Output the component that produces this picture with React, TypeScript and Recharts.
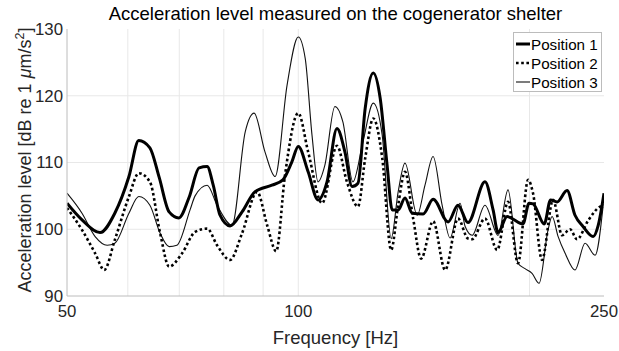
import React from 'react';
import { LineChart, Line, XAxis, YAxis, CartesianGrid } from 'recharts';

const xTicks = [50, 100, 250];
const yTicks = [90, 100, 110, 120, 130];
const xGrid = [60, 70, 80, 90, 100, 200];
const yGrid = [100, 110, 120];

const pos1Freq = [50, 52.3, 55.2, 57.7, 60.2, 62.0, 64.1, 65.9, 67.9, 69.9, 72.1, 74.3, 76.1, 77.5, 79.1, 81.5, 84.5, 87.8, 92.4, 95.5, 98.1, 100, 103.0, 106.1, 109.0, 112.3, 115.0, 117.5, 119.6, 122.2, 125.2, 127.8, 130.5, 132.5, 134.9, 137.7, 140.7, 145.4, 149.8, 156.7, 161.4, 166.3, 175.0, 179.3, 182.0, 187.0, 189.8, 196.1, 199.7, 202.1, 209.0, 213.0, 217.2, 223.8, 229.2, 234.8, 242.0, 245.6, 250];
const pos1Level = [103.9, 101.4, 99.5, 102.4, 107.9, 113.3, 112.2, 107.8, 102.6, 101.7, 104.8, 109.2, 109.4, 106.6, 102.1, 100.5, 102.6, 105.6, 106.6, 107.4, 110.1, 112.4, 108.6, 104.4, 107.1, 115.1, 111.6, 106.4, 106.9, 118.1, 123.4, 119.7, 109.6, 102.9, 102.9, 104.7, 102.4, 102.3, 104.5, 101.1, 103.6, 101.0, 107.1, 102.9, 99.5, 101.9, 101.6, 100.8, 103.9, 103.8, 100.8, 104.4, 104.1, 105.8, 102.1, 100.4, 98.9, 100.5, 105.4];

const pos2Freq = [50, 52.3, 54.4, 55.9, 57.7, 60.2, 62.0, 64.1, 66.1, 67.9, 70.6, 73.4, 76.1, 78.4, 81.5, 84.5, 88.4, 91.1, 93.6, 96.1, 100, 103.0, 107.4, 112.3, 115.7, 119.6, 122.2, 125.2, 128.6, 132.1, 134.9, 137.7, 141.1, 144.5, 149.8, 155.3, 161.4, 166.3, 168.4, 175.0, 181.5, 187.5, 193.2, 199.1, 202.1, 207.6, 214.6, 220.5, 225.8, 230.6, 238.4, 247.1, 250];
const pos2Level = [103.2, 99.9, 96.4, 93.9, 98.4, 104.9, 108.4, 107.1, 99.4, 94.4, 96.4, 99.6, 100.1, 97.6, 95.4, 99.4, 105.6, 100.6, 96.7, 108.1, 117.4, 111.6, 103.9, 112.5, 107.1, 103.4, 110.6, 116.6, 110.7, 96.9, 103.6, 108.6, 101.6, 95.6, 101.2, 93.9, 101.6, 98.6, 98.5, 101.6, 96.9, 104.1, 94.9, 107.4, 105.4, 95.4, 104.4, 99.1, 100.0, 98.5, 101.3, 103.4, 103.6];

const pos3Freq = [50, 52.3, 54.4, 56.4, 57.7, 60.2, 62.0, 64.1, 66.1, 67.9, 69.5, 72.3, 73.4, 76.1, 78.4, 82.0, 85.3, 87.6, 90.5, 93.3, 96.7, 100, 102.1, 104.2, 106.1, 108.3, 111.6, 114.3, 117.8, 121.4, 125.2, 128.6, 132.1, 134.9, 137.7, 142.8, 146.2, 149.8, 153.9, 157.6, 162.4, 164.9, 168.4, 175.0, 182.0, 187.5, 193.2, 197.3, 201.5, 205.8, 211.4, 214.0, 217.9, 222.5, 229.2, 236.2, 243.4, 249.3];
const pos3Level = [105.4, 102.4, 98.9, 97.6, 97.9, 102.4, 104.9, 103.6, 99.4, 97.4, 97.6, 102.9, 105.0, 106.6, 103.6, 100.6, 114.6, 117.4, 111.6, 107.9, 121.6, 128.8, 125.6, 114.1, 107.1, 109.6, 118.4, 116.1, 107.1, 113.1, 118.9, 114.1, 98.6, 105.6, 109.9, 102.1, 106.6, 110.9, 103.6, 98.7, 103.9, 100.4, 99.1, 103.6, 99.1, 105.9, 94.9, 94.1, 93.4, 91.9, 99.9, 101.9, 98.9, 96.4, 93.9, 97.9, 96.1, 103.4];

const legendNames = ['Position 1', 'Position 2', 'Position 3'];

const toData = (fs: number[], vs: number[]) => fs.map((f, i) => ({ f, v: vs[i] }));
const d1 = toData(pos1Freq, pos1Level);
const d2 = toData(pos2Freq, pos2Level);
const d3 = toData(pos3Freq, pos3Level);

const FONT = '"Liberation Sans", Arial, Helvetica, sans-serif';
const W = 619;
const H = 351;
const tickStyle = { fontSize: 16.8, fill: '#262626', fontFamily: FONT };
const frame = '#bcbcbc';

export default function App() {
  return (
    <div style={{ position: 'absolute', left: 0, top: 0, width: W, height: H, background: '#fff' }}>
      <LineChart width={W} height={H} margin={{ top: 29, right: 15, bottom: 0, left: 0 }}>
        <CartesianGrid
          stroke="#e8e8e8"
          strokeWidth={1}
          verticalValues={xGrid}
          horizontalValues={yGrid}
          xAxisId="b"
          yAxisId="l"
        />
        <XAxis
          xAxisId="b"
          dataKey="f"
          type="number"
          scale="log"
          domain={[50, 250]}
          ticks={xTicks}
          allowDataOverflow
          height={55}
          tickSize={0}
          tickMargin={9}
          tick={tickStyle}
          axisLine={{ stroke: frame }}
          interval={0}
        />
        <XAxis
          xAxisId="t"
          orientation="top"
          dataKey="f"
          type="number"
          scale="log"
          domain={[50, 250]}
          height={0}
          tick={false}
          tickLine={false}
          axisLine={{ stroke: frame }}
        />
        <YAxis
          yAxisId="l"
          type="number"
          domain={[90, 130]}
          ticks={yTicks}
          allowDataOverflow
          width={67}
          tickSize={0}
          tickMargin={4}
          tick={tickStyle}
          axisLine={{ stroke: frame }}
          interval={0}
        />
        <YAxis
          yAxisId="r"
          orientation="right"
          type="number"
          domain={[90, 130]}
          width={0}
          tick={false}
          tickLine={false}
          axisLine={{ stroke: frame }}
        />
        <Line xAxisId="b" yAxisId="l" data={d3} dataKey="v" type="monotone" stroke="#111" strokeWidth={1.1} dot={false} isAnimationActive={false} />
        <Line xAxisId="b" yAxisId="l" data={d2} dataKey="v" type="monotone" stroke="#000" strokeWidth={2.6} strokeDasharray="2.6 2.6" dot={false} isAnimationActive={false} />
        <Line xAxisId="b" yAxisId="l" data={d1} dataKey="v" type="monotone" stroke="#000" strokeWidth={3} dot={false} isAnimationActive={false} />
      </LineChart>
      <svg width={W} height={H} style={{ position: 'absolute', left: 0, top: 0, pointerEvents: 'none' }}>
        <text x={335.5} y={20} textAnchor="middle" fontFamily={FONT} fontSize={18.5} fill="#000">
          Acceleration level measured on the cogenerator shelter
        </text>
        <text x={335.5} y={344} textAnchor="middle" fontFamily={FONT} fontSize={18.5} fill="#262626">
          Frequency [Hz]
        </text>
        <text transform="translate(31,160) rotate(-90)" textAnchor="middle" fontFamily={FONT} fontSize={18} fill="#262626">
          <tspan>Acceleration level [dB re 1 </tspan>
          <tspan fontStyle="italic">μ</tspan>
          <tspan>m/s</tspan>
          <tspan dy={-7} fontSize={12.5}>2</tspan>
          <tspan dy={7}>]</tspan>
        </text>
        <g>
          <rect x={513.5} y={32.5} width={88} height={59} fill="#fff" stroke="#bcbcbc" strokeWidth={1} />
          {legendNames.map((name, i) => {
            const cy = 44 + i * 19;
            const sw = i === 0 ? 3 : i === 1 ? 2.6 : 1.1;
            return (
              <g key={name}>
                <line
                  x1={516}
                  x2={530}
                  y1={cy}
                  y2={cy}
                  stroke={i === 2 ? '#111' : '#000'}
                  strokeWidth={sw}
                  strokeDasharray={i === 1 ? '2.6 2.6' : undefined}
                />
                <text x={531} y={cy} dominantBaseline="central" fontFamily={FONT} fontSize={15.2} fill="#000">
                  {name}
                </text>
              </g>
            );
          })}
        </g>
      </svg>
    </div>
  );
}
